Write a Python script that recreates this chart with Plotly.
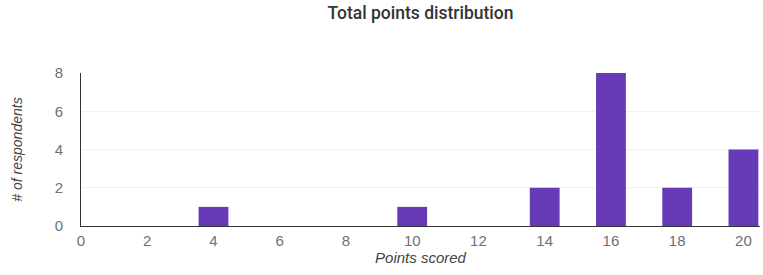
import plotly.graph_objects as go

points = [4, 10, 14, 16, 18, 20]
respondents = [1, 1, 2, 8, 2, 4]
x_ticks = [0, 2, 4, 6, 8, 10, 12, 14, 16, 18, 20]
y_ticks = [0, 2, 4, 6, 8]

fig = go.Figure(go.Bar(x=points, y=respondents, width=0.9,
                       marker=dict(color="#673ab7", line=dict(width=0))))

fig.update_layout(
    width=763, height=275,
    margin=dict(l=81, r=3, t=73, b=49, autoexpand=False),
    plot_bgcolor="white", paper_bgcolor="white",
    showlegend=False,
    title=dict(text="Total points distribution", x=0.5, xref="paper", y=1 - 13 / 275, yref="container",
               xanchor="center", yanchor="middle",
               font=dict(family="Roboto", size=17.5, color="#333", weight=500)),
    xaxis=dict(range=[0, 20.5], tickvals=x_ticks, showgrid=False, zeroline=False,
               showline=True, linecolor="#333", linewidth=1, automargin=False,
               ticks="", ticklabelstandoff=1,
               tickfont=dict(family="Liberation Sans", size=15, color="#707070"),
               title=dict(text="Points scored", standoff=0,
                          font=dict(family="Liberation Sans", size=15, color="#444", style="italic"))),
    yaxis=dict(range=[0, 8], tickvals=y_ticks, showgrid=True, gridcolor="#f2f2f2",
               zeroline=False, showline=True, linecolor="#333", linewidth=1, automargin=False,
               ticks="", ticklabelstandoff=14,
               tickfont=dict(family="Liberation Sans", size=15, color="#707070"),
               title=dict(text="# of respondents", standoff=28,
                          font=dict(family="Liberation Sans", size=14, color="#444", style="italic"))),
)

fig.write_html("out.html", config={"displayModeBar": False},
               post_script="document.body.style.margin='0';document.body.style.overflow='hidden';")
